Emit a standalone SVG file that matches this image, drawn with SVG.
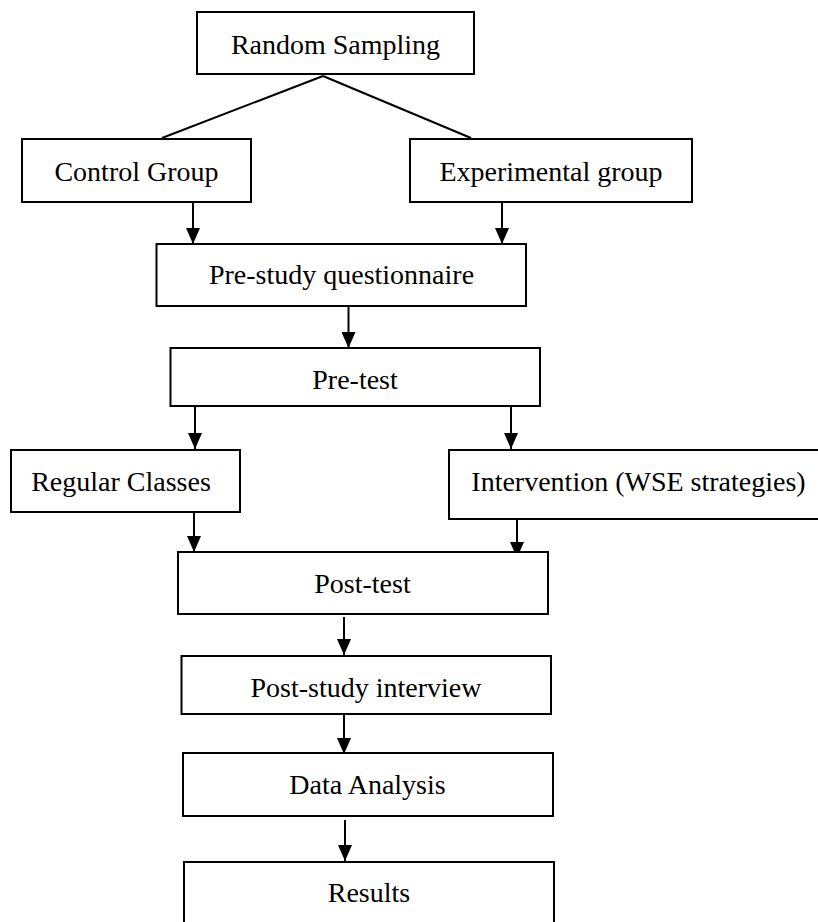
<svg xmlns="http://www.w3.org/2000/svg" width="818" height="922" viewBox="0 0 818 922">
<style>
  .box { fill: #ffffff; stroke: #000000; stroke-width: 2; }
  .lbl { font-family: "Liberation Serif", "Times New Roman", serif; font-size: 28px; fill: #000000; text-anchor: middle; }
  .conn { stroke: #000000; stroke-width: 2; fill: none; }
  .arr { stroke: #000000; stroke-width: 2; fill: none; marker-end: url(#ah); }
</style>
<defs>
  <marker id="ah" markerUnits="userSpaceOnUse" viewBox="0 -7 16 14" refX="16" refY="0" markerWidth="16" markerHeight="14" orient="auto">
    <path d="M0,-7 L16,0 L0,7 z" fill="#000000"/>
  </marker>
</defs>
<rect width="818" height="922" fill="#ffffff"/>
<g id="connectors">
  <line class="conn" x1="323" y1="76" x2="162" y2="138"/>
  <line class="conn" x1="323" y1="76" x2="471" y2="138"/>
  <line class="arr" x1="193" y1="202" x2="193" y2="244"/>
  <line class="arr" x1="502" y1="202" x2="502" y2="244"/>
  <line class="arr" x1="348.5" y1="306" x2="348.5" y2="348"/>
  <line class="arr" x1="195" y1="406" x2="195" y2="449"/>
  <line class="arr" x1="511" y1="406" x2="511" y2="449"/>
  <line class="arr" x1="194" y1="512" x2="194" y2="552"/>
  <line class="arr" x1="517" y1="519" x2="517" y2="558"/>
  <line class="arr" x1="344" y1="617" x2="344" y2="655"/>
  <line class="arr" x1="344" y1="714" x2="344" y2="754"/>
  <line class="arr" x1="345" y1="820" x2="345" y2="861"/>
</g>
<g id="random-sampling">
  <rect class="box" x="197" y="12" width="277" height="62"/>
  <text class="lbl" x="335.5" y="54">Random Sampling</text>
</g>
<g id="control-group">
  <rect class="box" x="22" y="139" width="229" height="63"/>
  <text class="lbl" x="136.5" y="181">Control Group</text>
</g>
<g id="experimental-group">
  <rect class="box" x="410" y="139" width="282" height="63"/>
  <text class="lbl" x="551" y="181">Experimental group</text>
</g>
<g id="pre-study-questionnaire">
  <rect class="box" x="156.5" y="244" width="369.5" height="62"/>
  <text class="lbl" x="341.5" y="284">Pre-study questionnaire</text>
</g>
<g id="pre-test">
  <rect class="box" x="170.5" y="348" width="369.5" height="58"/>
  <text class="lbl" x="355" y="389">Pre-test</text>
</g>
<g id="regular-classes">
  <rect class="box" x="11" y="450" width="229" height="62"/>
  <text class="lbl" x="121" y="491">Regular Classes</text>
</g>
<g id="intervention">
  <rect class="box" x="449" y="450" width="380" height="69"/>
  <text class="lbl" x="638.5" y="491">Intervention (WSE strategies)</text>
</g>
<g id="post-test">
  <rect class="box" x="178" y="552" width="370" height="62"/>
  <text class="lbl" x="362.5" y="593">Post-test</text>
</g>
<g id="post-study-interview">
  <rect class="box" x="181.5" y="656" width="369.5" height="58"/>
  <text class="lbl" x="366" y="697">Post-study interview</text>
</g>
<g id="data-analysis">
  <rect class="box" x="183" y="753" width="370" height="63"/>
  <text class="lbl" x="367.5" y="794">Data Analysis</text>
</g>
<g id="results">
  <rect class="box" x="184" y="862" width="370" height="72"/>
  <text class="lbl" x="369" y="902">Results</text>
</g>
</svg>
